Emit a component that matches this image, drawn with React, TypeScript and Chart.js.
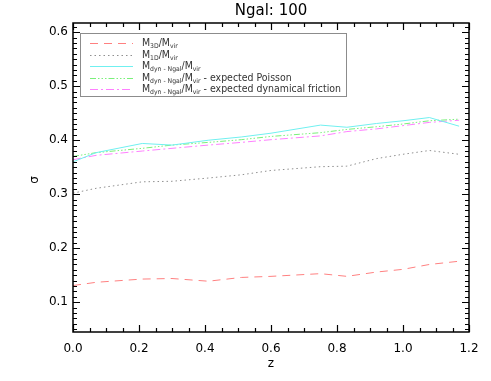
import React, { useEffect, useRef } from "react";
import { Chart, registerables } from "chart.js";

Chart.register(...registerables);

const titleText = "Ngal: 100";
const zValues = [0.0, 0.07, 0.21, 0.3, 0.41, 0.51, 0.6, 0.75, 0.83, 0.92, 1.0, 1.08, 1.17];
const m3d = [0.131, 0.137, 0.143, 0.144, 0.139, 0.146, 0.148, 0.153, 0.148, 0.156, 0.161, 0.170, 0.176];
const m1d = [0.302, 0.311, 0.323, 0.324, 0.330, 0.336, 0.344, 0.351, 0.352, 0.366, 0.374, 0.381, 0.374];
const mdyn = [0.360, 0.377, 0.394, 0.391, 0.400, 0.406, 0.413, 0.428, 0.424, 0.431, 0.436, 0.442, 0.426];
const mdynPoisson = [0.370, 0.377, 0.385, 0.391, 0.396, 0.401, 0.407, 0.414, 0.420, 0.425, 0.430, 0.436, 0.439];
const mdynFriction = [0.364, 0.372, 0.380, 0.385, 0.391, 0.396, 0.401, 0.408, 0.416, 0.421, 0.427, 0.433, 0.437];
const xTicks = [0.0, 0.2, 0.4, 0.6, 0.8, 1.0, 1.2];
const yTicks = [0.1, 0.2, 0.3, 0.4, 0.5, 0.6];

type Seg = { t: string; sub?: boolean };
const legendLabels: Seg[][] = [
  [{ t: "M" }, { t: "3D", sub: true }, { t: "/M" }, { t: "vir", sub: true }],
  [{ t: "M" }, { t: "1D", sub: true }, { t: "/M" }, { t: "vir", sub: true }],
  [{ t: "M" }, { t: "dyn - Ngal", sub: true }, { t: "/M" }, { t: "vir", sub: true }],
  [{ t: "M" }, { t: "dyn - Ngal", sub: true }, { t: "/M" }, { t: "vir", sub: true }, { t: " - expected Poisson" }],
  [{ t: "M" }, { t: "dyn - Ngal", sub: true }, { t: "/M" }, { t: "vir", sub: true }, { t: " - expected dynamical friction" }],
];

const colors = ["#ff8080", "#8f8f8f", "#70f0f0", "#7af07a", "#ff80ff"];
const dashes = [[8, 6], [1.5, 3], [], [6, 2, 1.5, 2, 1.5, 2, 1.5, 2], [8, 3, 2, 3]];
const seriesData = [m3d, m1d, mdyn, mdynPoisson, mdynFriction];

const FONT = "DejaVu Sans";

const framePlugin = {
  id: "idlFrame",
  afterDraw(chart: any) {
    const ctx = chart.ctx as CanvasRenderingContext2D;
    const { left, right, top, bottom } = chart.chartArea;
    const xs = chart.scales.x;
    const ys = chart.scales.y;
    ctx.save();
    ctx.strokeStyle = "#000";
    ctx.lineWidth = 1.5;
    ctx.strokeRect(left, top, right - left, bottom - top);
    ctx.lineWidth = 1.2;
    ctx.beginPath();
    for (let i = 0; i <= 24; i++) {
      const v = i * 0.05;
      const px = Math.round(xs.getPixelForValue(v)) + 0.5;
      const len = i % 4 === 0 ? 7 : 4;
      ctx.moveTo(px, bottom);
      ctx.lineTo(px, bottom - len);
      ctx.moveTo(px, top);
      ctx.lineTo(px, top + len);
    }
    for (let i = 5; i <= 61; i++) {
      const v = i * 0.01;
      const py = Math.round(ys.getPixelForValue(v)) + 0.5;
      if (py < top || py > bottom) continue;
      const len = i % 10 === 0 ? 7 : 4;
      ctx.moveTo(left, py);
      ctx.lineTo(left + len, py);
      ctx.moveTo(right, py);
      ctx.lineTo(right - len, py);
    }
    ctx.stroke();

    ctx.fillStyle = "#000";
    ctx.font = `15px ${FONT}`;
    ctx.textAlign = "center";
    ctx.textBaseline = "middle";
    ctx.fillText(titleText, (left + right) / 2, 11);
    ctx.font = `12px ${FONT}`;
    ctx.fillText("z", (left + right) / 2, 364);
    ctx.save();
    ctx.translate(35, 180);
    ctx.rotate(-Math.PI / 2);
    ctx.fillText("σ", 0, 0);
    ctx.restore();

    // legend
    const bx = 80, by = 33, bw = 266, bh = 63;
    ctx.strokeStyle = "#8c8c8c";
    ctx.lineWidth = 1;
    ctx.strokeRect(bx + 0.5, by + 0.5, bw, bh);
    const rowY = [43, 54.5, 66, 77.5, 89];
    const mainFont = `10px ${FONT}`;
    const subFont = `6.5px ${FONT}`;
    // compute horizontal squeeze so the longest row fits the box
    let maxW = 0;
    for (const row of legendLabels) {
      let w = 0;
      for (const seg of row) {
        ctx.font = seg.sub ? subFont : mainFont;
        w += ctx.measureText(seg.t).width;
      }
      maxW = Math.max(maxW, w);
    }
    const textStart = 142;
    const sx = Math.min(1, (341 - textStart) / maxW);
    for (let r = 0; r < legendLabels.length; r++) {
      const y = rowY[r];
      ctx.strokeStyle = colors[r];
      ctx.lineWidth = 1;
      ctx.setLineDash(dashes[r]);
      ctx.beginPath();
      ctx.moveTo(90, Math.round(y) + 0.5);
      ctx.lineTo(133, Math.round(y) + 0.5);
      ctx.stroke();
      ctx.setLineDash([]);
      ctx.save();
      ctx.translate(textStart, 0);
      ctx.scale(sx, 1);
      let x = 0;
      ctx.fillStyle = "#333";
      ctx.textAlign = "left";
      ctx.textBaseline = "alphabetic";
      for (const seg of legendLabels[r]) {
        if (seg.sub) {
          ctx.font = subFont;
          ctx.fillText(seg.t, x, y + 5);
        } else {
          ctx.font = mainFont;
          ctx.fillText(seg.t, x, y + 3);
        }
        x += ctx.measureText(seg.t).width;
      }
      ctx.restore();
    }
    ctx.restore();
  },
};

export default function App() {
  const ref = useRef<HTMLCanvasElement | null>(null);
  useEffect(() => {
    document.body.style.margin = "0";
    const canvas = ref.current;
    if (!canvas) return;
    const datasets = seriesData.map((vals, i) => ({
      label: `s${i}`,
      data: vals.map((v, j) => ({ x: zValues[j], y: v })),
      borderColor: colors[i],
      borderWidth: 1,
      borderDash: dashes[i],
      pointRadius: 0,
      fill: false,
      tension: 0,
    }));
    const chart = new Chart(canvas, {
      type: "line",
      data: { datasets },
      options: {
        responsive: false,
        animation: false,
        devicePixelRatio: 1,
        layout: { padding: { top: 23, right: 22, left: 0, bottom: 0 } },
        plugins: { legend: { display: false }, title: { display: false }, tooltip: { enabled: false } },
        scales: {
          x: {
            type: "linear",
            min: 0,
            max: 1.2,
            afterFit: (s: any) => { s.height = 49; },
            afterBuildTicks: (s: any) => { s.ticks = xTicks.map((v) => ({ value: v })); },
            grid: { display: false, drawTicks: false },
            border: { display: false },
            ticks: {
              padding: 10,
              color: "#000",
              font: { family: FONT, size: 12 },
              callback: (v: any) => Number(v).toFixed(1),
              maxRotation: 0,
            },
          },
          y: {
            type: "linear",
            min: 0.045,
            max: 0.617,
            afterFit: (s: any) => { s.width = 73; },
            afterBuildTicks: (s: any) => { s.ticks = yTicks.map((v) => ({ value: v })); },
            grid: { display: false, drawTicks: false },
            border: { display: false },
            ticks: {
              padding: 5,
              color: "#000",
              font: { family: FONT, size: 12 },
              callback: (v: any) => Number(v).toFixed(1),
            },
          },
        },
      },
      plugins: [framePlugin],
    });
    return () => chart.destroy();
  }, []);
  return (
    <div style={{ width: 491, height: 381, background: "#fff" }}>
      <canvas ref={ref} width={491} height={381} style={{ display: "block" }} />
    </div>
  );
}
